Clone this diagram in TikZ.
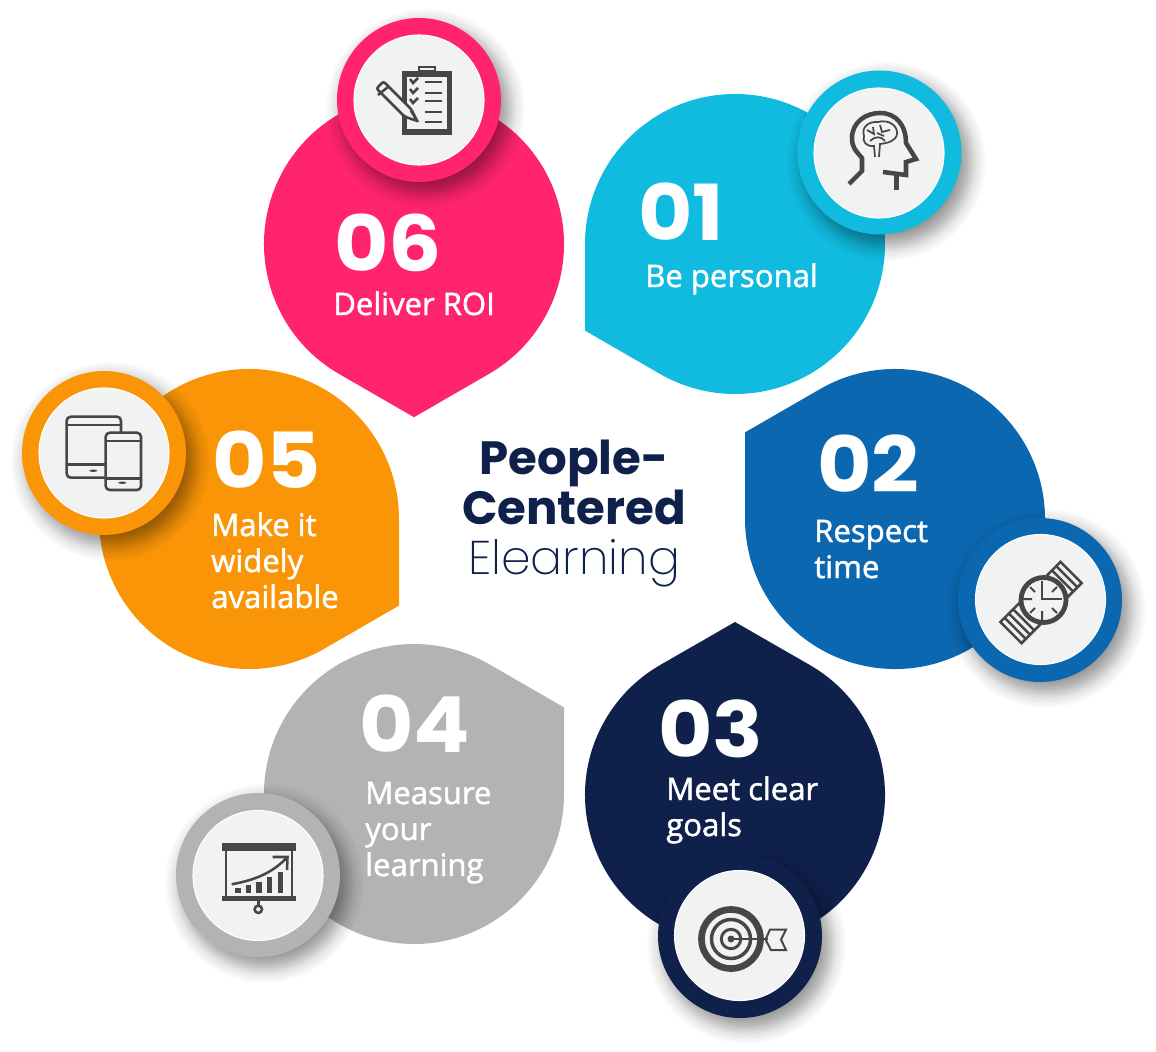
\documentclass[tikz,border=0pt]{standalone}
\usepackage{fontspec}
\usetikzlibrary{fadings}
\newfontfamily\numberfont{Poppins}[UprightFont=* Bold,FakeStretch=1.08]
\newfontfamily\titlefont{Poppins}[UprightFont=* Bold]
\newfontfamily\labelfont{Open Sans}[RawFeature={embolden=1.5}]
\newfontfamily\lightfont{Poppins}[UprightFont=* ExtraLight]
\definecolor{skyblue}{HTML}{10BBDF}
\definecolor{seablue}{HTML}{0B68B0}
\definecolor{navyblue}{HTML}{0F214B}
\definecolor{softgray}{HTML}{B3B3B3}
\definecolor{deeporange}{HTML}{FA9507}
\definecolor{hotpink}{HTML}{FF246D}
\definecolor{discgray}{HTML}{F1F3F3}
\definecolor{icongray}{HTML}{464646}
\pgfdeclareradialshading{softring}{\pgfpointorigin}{color(0bp)=(pgftransparent!55); color(17bp)=(pgftransparent!55); color(20bp)=(pgftransparent!72); color(22.5bp)=(pgftransparent!90); color(25bp)=(pgftransparent!100); color(50bp)=(pgftransparent!100)}
\pgfdeclarefading{softshadow}{\pgfuseshading{softring}}
\tikzset{
	ringshadow/.style={fill=black,path fading=softshadow},
	disc/.style={fill=discgray,draw=white,line width=.8pt},
	iconline/.style={draw=icongray,line width=1.9pt,line join=miter},
	thinline/.style={draw=icongray,line width=1.3pt},
	numbertext/.style={anchor=base west,inner sep=0pt,text=white,font=\numberfont\fontsize{58}{58}\selectfont},
	labeltext/.style={anchor=base west,inner sep=0pt,text=white,align=left,font=\labelfont\fontsize{23.3}{27}\selectfont},
}

\begin{document}
\begin{tikzpicture}[x=.75pt,y=-.75pt]

	\useasboundingbox (0,0) rectangle (1156,1052);

	\fill [skyblue] (585,330.6) -- (585,244) arc (180:480:150) -- cycle;
	\fill [seablue] (745,432.4) -- (820,389.1) arc (240:540:150) -- cycle;
	\fill [navyblue] (735,622) -- (810,665.1) arc (300:600:150) -- cycle;
	\fill [softgray] (564,707.4) -- (564,794) arc (0:300:150) -- cycle;
	\fill [deeporange] (399,605.6) -- (324,648.9) arc (60:360:150) -- cycle;
	\fill [hotpink] (414,417.2) -- (339,373.9) arc (120:420:150) -- cycle;

	\fill [ringshadow] (886,161) circle (100);
	\fill [skyblue] (879.5,152.5) circle (82);
	\draw [disc] (879,153) circle (65);
	\fill [ringshadow] (1046,608) circle (100);
	\fill [seablue] (1040,600) circle (82);
	\draw [disc] (1040.5,599.5) circle (65);
	\fill [ringshadow] (746,944) circle (100);
	\fill [navyblue] (740,936) circle (82);
	\draw [disc] (739.5,935.5) circle (65);
	\fill [ringshadow] (264,883) circle (100);
	\fill [softgray] (258,875) circle (82);
	\draw [disc] (258,875.5) circle (65);
	\fill [ringshadow] (110,461) circle (100);
	\fill [deeporange] (104,453) circle (82);
	\draw [disc] (104,453) circle (65);
	\fill [ringshadow] (425,108) circle (100);
	\fill [hotpink] (419,100) circle (82);
	\draw [disc] (419,100) circle (65);

	\draw [iconline,line width=3.4pt] (849,184) -- (862,171) -- (862,158) .. controls (855,150) and (852,147) .. (852,138) .. controls (852,122) and (866,113) .. (880,113) .. controls (896,113) and (906,125) .. (906,143) -- (916,159) -- (906,162) -- (906,175) -- (883,172);
	\draw [iconline,line width=3.4pt] (896.5,174) -- (896.5,190);
	\draw [thinline] (875,157) -- (874,146) .. controls (866,147) and (862,141) .. (864,136) .. controls (861,127) and (869,121) .. (878,122) .. controls (889,119) and (898,126) .. (897,134) .. controls (896,141) and (888,143) .. (880,144) -- (879,157);
	\draw [thinline] (867,130) -- (874,134) -- (873,127) (880,125) -- (882,132) -- (890,130) (870,141) .. controls (875,136) and (881,136) .. (885,141) (877,133) -- (884,136);

	\begin{scope}[shift={(1043.5,600)},rotate=45]
		\draw [thinline,line width=1.9pt] (-46,-15) rectangle (-20,15);
		\draw [thinline,line width=1.9pt] (-40,-15) -- (-40,15) (-34,-15) -- (-34,15) (-28,-15) -- (-28,15);
		\draw [thinline,line width=1.9pt] (20,-15) rectangle (39,15);
		\draw [thinline,line width=1.9pt] (27,-15) -- (27,15) (33,-15) -- (33,15);
	\end{scope}
	\draw [iconline,fill=discgray,line width=3.6pt] (1043.5,600) circle (22.5);
	\draw [iconline,line width=1.5pt] (1042,581) -- (1042,599) -- (1062,599);
	\draw [iconline,line width=1.5pt] (1023,599) -- (1032,599) (1042,611) -- (1042,620) (1030,587) -- (1035,592) (1057,587) -- (1052,592) (1030,613) -- (1035,608) (1057,613) -- (1052,608);

	\draw [iconline,line width=5pt] (731,939) circle (29.5);
	\draw [iconline,line width=2.6pt] (731,939) circle (19.5);
	\draw [iconline,line width=2.2pt] (731,939) circle (9.7);
	\fill [icongray] (731,939) circle (3.5);
	\draw [iconline,line width=1.5pt] (731,939) -- (768,939);
	\draw [iconline,line width=1.5pt] (770,929.5) -- (786,929.5) -- (781,939.5) -- (786,950) -- (771,950) -- (765.5,939.5) -- cycle;

	\fill [icongray] (222,843) rectangle (296,851);
	\fill [icongray] (222,896) rectangle (296,901);
	\draw [iconline] (226,851) -- (226,896) (292,851) -- (292,896);
	\fill [icongray] (235,887.7) rectangle (240.7,893.3);
	\fill [icongray] (246,885) rectangle (251,893.3);
	\fill [icongray] (256,882.3) rectangle (261.7,893.3);
	\fill [icongray] (267.3,877.3) rectangle (272.3,893.3);
	\fill [icongray] (277.7,871.7) rectangle (282.7,893.3);
	\draw [iconline] (231.7,884.3) .. controls (255,880) and (272,873) .. (286.5,858);
	\draw [iconline] (272.7,857) -- (287.5,857) -- (287,870);
	\draw [iconline] (258.3,901) -- (258.3,906);
	\draw [iconline] (258.3,909.3) circle (3.7);

	\draw [iconline,rounded corners=3] (121,432) -- (121,416.7) -- (66.7,416.7) -- (66.7,477.7) -- (105,477.7);
	\draw [iconline] (66.7,425) -- (121,425) (66.7,464.3) -- (105,464.3);
	\fill [icongray] (93.3,470.7) ellipse (4 and 1.2);
	\draw [iconline,fill=discgray,rounded corners=3] (105.7,432.7) rectangle (141,490);
	\draw [iconline] (105.7,441) -- (141,441) (105.7,478.3) -- (141,478.3);
	\fill [icongray] (122.3,482.7) ellipse (4 and 1.2);

	\draw [iconline,line width=3.8pt] (404.5,74) rectangle (449.5,132);
	\draw [iconline] (419,67) rectangle (435,71.5);
	\draw [iconline] (425,82) -- (442,82) (425,93) -- (442,93) (425,101) -- (442,101) (425,112) -- (442,112) (425,122) -- (442,122);
	\draw [iconline] (410,79) -- (413,83) -- (418,78) (410,89) -- (413,93) -- (418,88) (410,99) -- (413,103) -- (418,98);
	\draw [iconline,fill=discgray,rounded corners=1.5] (383.5,81.5) -- (411.5,109.5) -- (417,121) -- (404.5,116.5) -- (376.5,88.5) -- cycle;
	\draw [iconline] (378,95) -- (388,87) (411,111) -- (418,122);

	\node [numbertext] (numone) at (638,240) {01};
	\node [labeltext] (textone) at (645,287) {Be personal};
	\node [numbertext] (numtwo) at (817,492) {02};
	\node [labeltext] (texttwo) at (814,578) {Respect\\time};
	\node [numbertext] (numthree) at (658,757) {03};
	\node [labeltext] (textthree) at (666,836) {Meet clear\\goals};
	\node [numbertext] (numfour) at (359,752) {04};
	\node [labeltext] (textfour) at (365,876) {Measure\\your\\learning};
	\node [numbertext] (numfive) at (212,488) {05};
	\node [labeltext] (textfive) at (211,608) {Make it\\widely\\available};
	\node [numbertext] (numsix) at (334,271) {06};
	\node [labeltext] (textsix) at (333,315) {Deliver ROI};

	\node [anchor=base,inner sep=0pt,align=center,text=navyblue,font=\titlefont\fontsize{35}{37.5}\selectfont] (title) at (574,574) {People-\\Centered\\{\lightfont\fontsize{35.5}{37.5}\selectfont Elearning}};
\end{tikzpicture}
\end{document}
